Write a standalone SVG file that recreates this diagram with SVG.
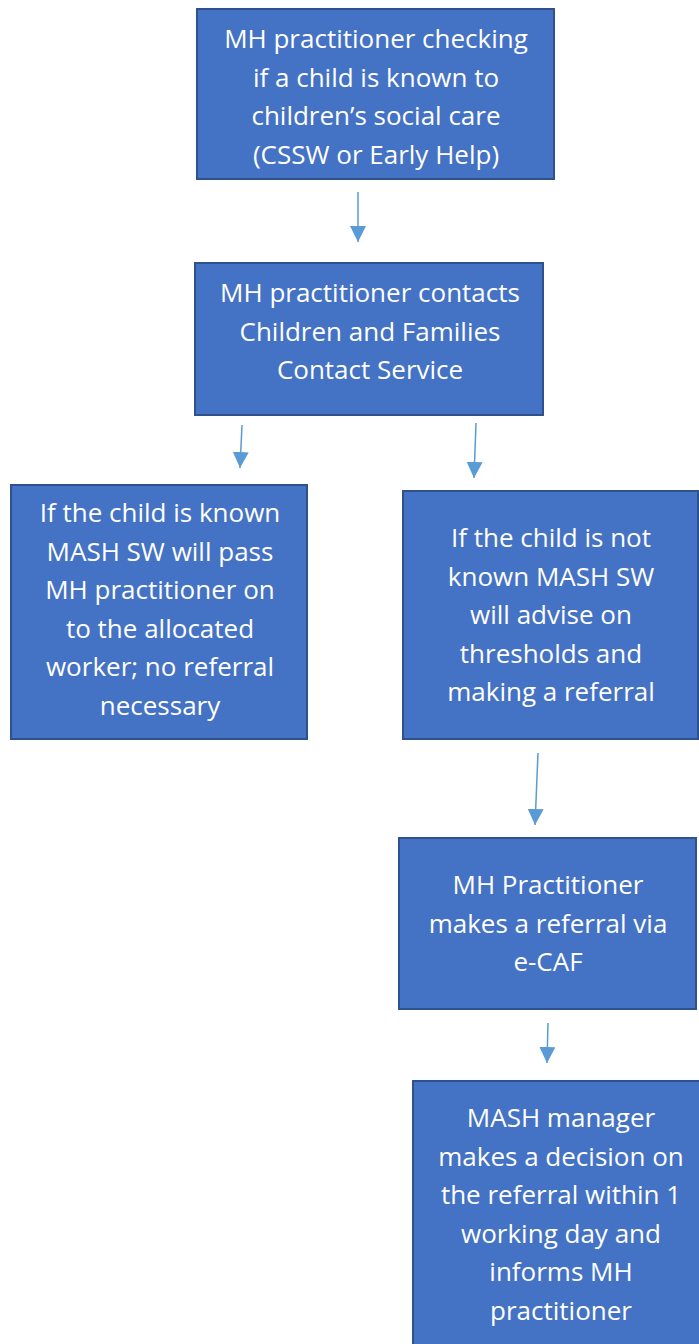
<svg xmlns="http://www.w3.org/2000/svg" width="699" height="1344" viewBox="0 0 699 1344">
  <style>
    .box { fill: #4472C4; stroke: #2F528F; stroke-width: 2; }
    .lbl { font-family: "Open Sans", "Noto Sans", "DejaVu Sans", sans-serif; font-size: 26px; fill: #FFFFFF; text-anchor: middle; }
    .conn { stroke: #5B9BD5; stroke-width: 1.5; fill: none; marker-end: url(#arrow); }
  </style>
  <defs>
    <marker id="arrow" markerUnits="userSpaceOnUse" markerWidth="16" markerHeight="16" viewBox="0 0 16 16" refX="16" refY="8" orient="auto">
      <path d="M0,0 L16,8 L0,16 Z" fill="#5B9BD5"/>
    </marker>
  </defs>
  <rect width="699" height="1344" fill="#FFFFFF"/>

  <g id="connectors">
    <line class="conn" x1="358" y1="192" x2="358" y2="242"/>
    <line class="conn" x1="242" y1="425" x2="240" y2="468"/>
    <line class="conn" x1="476" y1="423" x2="474" y2="478"/>
    <line class="conn" x1="538" y1="753" x2="535" y2="825"/>
    <line class="conn" x1="548" y1="1023" x2="547" y2="1063"/>
  </g>

  <g id="node1">
    <rect class="box" x="197" y="9" width="357" height="170"/>
    <text class="lbl" x="376" y="48">MH practitioner checking</text>
    <text class="lbl" x="376" y="86.7">if a child is known to</text>
    <text class="lbl" x="376" y="125.4">children’s social care</text>
    <text class="lbl" x="376" y="164">(CSSW or Early Help)</text>
  </g>

  <g id="node2">
    <rect class="box" x="195" y="263" width="348" height="152"/>
    <text class="lbl" x="370" y="302">MH practitioner contacts</text>
    <text class="lbl" x="370" y="340.5">Children and Families</text>
    <text class="lbl" x="370" y="379">Contact Service</text>
  </g>

  <g id="node3">
    <rect class="box" x="11" y="485" width="296" height="254"/>
    <text class="lbl" x="160" y="522">If the child is known</text>
    <text class="lbl" x="160" y="560.5">MASH SW will pass</text>
    <text class="lbl" x="160" y="599">MH practitioner on</text>
    <text class="lbl" x="160" y="637.5">to the allocated</text>
    <text class="lbl" x="160" y="676">worker; no referral</text>
    <text class="lbl" x="160" y="714.5">necessary</text>
  </g>

  <g id="node4">
    <rect class="box" x="403" y="491" width="295" height="248"/>
    <text class="lbl" x="551" y="547">If the child is not</text>
    <text class="lbl" x="551" y="585.5">known MASH SW</text>
    <text class="lbl" x="551" y="624">will advise on</text>
    <text class="lbl" x="551" y="662.5">thresholds and</text>
    <text class="lbl" x="551" y="701">making a referral</text>
  </g>

  <g id="node5">
    <rect class="box" x="399" y="838" width="297" height="171"/>
    <text class="lbl" x="548" y="894">MH Practitioner</text>
    <text class="lbl" x="548" y="932.5">makes a referral via</text>
    <text class="lbl" x="548" y="971">e-CAF</text>
  </g>

  <g id="node6">
    <rect class="box" x="413" y="1081" width="300" height="280"/>
    <text class="lbl" x="561" y="1127">MASH manager</text>
    <text class="lbl" x="561" y="1165.5">makes a decision on</text>
    <text class="lbl" x="561" y="1204">the referral within 1</text>
    <text class="lbl" x="561" y="1242.5">working day and</text>
    <text class="lbl" x="561" y="1281">informs MH</text>
    <text class="lbl" x="561" y="1319.5">practitioner</text>
  </g>
</svg>
